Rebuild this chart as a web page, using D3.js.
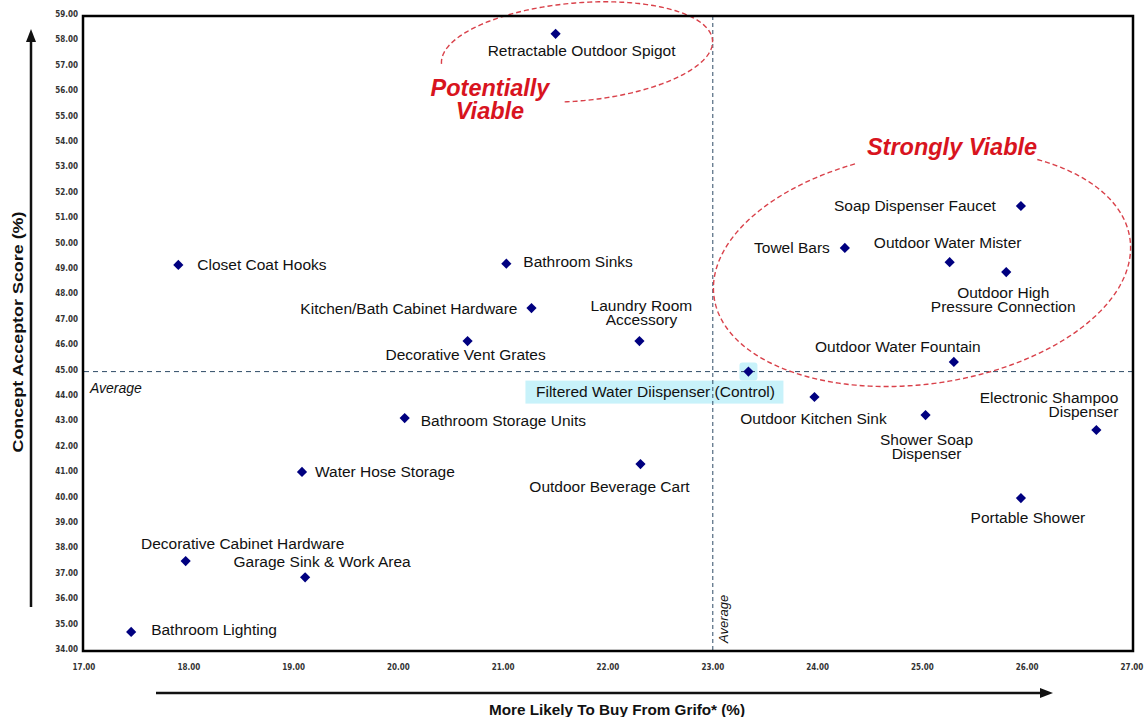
<!DOCTYPE html>
<html>
<head>
<meta charset="utf-8">
<script src="https://cdn.jsdelivr.net/npm/d3@7"></script>
<style>
  body { margin: 0; background: #fff; }
  svg { display: block; font-family: "Liberation Sans", Arial, sans-serif; }
</style>
</head>
<body>
<script>
const width = 1148;
const height = 717;

// concept names (\n = line break in the label)
const concepts = [
    'Retractable Outdoor Spigot', 'Closet Coat Hooks', 'Bathroom Sinks',
    'Kitchen/Bath Cabinet Hardware', 'Decorative Vent Grates', 'Laundry Room\nAccessory',
    'Filtered Water Diispenser (Control)', 'Outdoor Kitchen Sink', 'Bathroom Storage Units',
    'Water Hose Storage', 'Outdoor Beverage Cart', 'Decorative Cabinet Hardware',
    'Garage Sink & Work Area', 'Bathroom Lighting', 'Soap Dispenser Faucet', 'Towel Bars',
    'Outdoor Water Mister', 'Outdoor High\nPressure Connection', 'Outdoor Water Fountain',
    'Shower Soap\nDispenser', 'Electronic Shampoo\nDispenser', 'Portable Shower'
];
// More Likely To Buy From Grifo (%)
const buyPct = [21.50, 17.90, 21.03, 21.27, 20.66, 22.30, 23.34, 23.97, 20.06, 19.08, 22.31,
    17.97, 19.11, 17.45, 25.94, 24.26, 25.26, 25.80, 25.30, 25.03, 26.66, 25.94];
// Concept Acceptor Score (%)
const acceptPct = [58.30, 49.20, 49.25, 47.50, 46.20, 46.20, 45.00, 44.00, 43.17, 41.05, 41.36,
    37.54, 36.90, 34.75, 51.52, 49.87, 49.31, 48.92, 45.38, 43.29, 42.70, 40.02];

const xTicks = [17, 18, 19, 20, 21, 22, 23, 24, 25, 26, 27];
const yTicks = d3.range(34, 60);
const avgBuy = 23.0;
const avgAccept = 45.0;

// label placement: [anchor, dx, dy] relative to the marker
const labelPos = [
    ['middle', 26, 17], ['start', 19, 0], ['start', 17, -2], ['end', -14, 0], ['middle', -2, 13],
    ['middle', 2, -36], ['middle', -93, 20], ['middle', -1, 21], ['start', 16, 2], ['start', 13, 0],
    ['middle', -31, 22], ['middle', 57, -18], ['middle', 17, -16], ['start', 20, -2], ['end', -25, 0],
    ['end', -15, 0], ['middle', -2, -20], ['middle', -3, 20], ['middle', -56, -15], ['middle', 1, 24],
    ['end', 22, -33], ['middle', 7, 19]
];

const data = concepts.map((name, i) => ({name, x: buyPct[i], y: acceptPct[i], pos: labelPos[i]}));

const x = d3.scaleLinear().domain([17, 27]).range([84, 1132]);
const y = d3.scaleLinear().domain([34, 59]).range([651, 16]);

const svg = d3.select('body').append('svg')
    .attr('width', width)
    .attr('height', height);

// highlight behind the control concept
const ctrl = data[6];
svg.append('rect')
    .attr('x', x(ctrl.x) - 223).attr('y', y(ctrl.y) + 9)
    .attr('width', 258).attr('height', 23)
    .attr('fill', '#c8f2fa');
svg.append('rect')
    .attr('x', x(ctrl.x) - 9).attr('y', y(ctrl.y) - 9)
    .attr('width', 18).attr('height', 18).attr('rx', 3)
    .attr('fill', '#c8f2fa');

// average lines
svg.append('line')
    .attr('x1', x(17)).attr('x2', x(27))
    .attr('y1', y(avgAccept)).attr('y2', y(avgAccept))
    .attr('stroke', '#2e4a66').attr('stroke-width', 1).attr('stroke-dasharray', '5,4');
svg.append('line')
    .attr('x1', x(avgBuy)).attr('x2', x(avgBuy))
    .attr('y1', y(59)).attr('y2', y(34))
    .attr('stroke', '#2e4a66').attr('stroke-width', 1).attr('stroke-dasharray', '4,3');

svg.append('text')
    .attr('x', x(17) + 6).attr('y', y(avgAccept) + 21)
    .style('font-size', '14px').style('font-style', 'italic').attr('fill', '#111')
    .text('Average');
svg.append('text')
    .attr('transform', `translate(${x(avgBuy) + 15}, ${y(34) - 8}) rotate(-90)`)
    .style('font-size', '13px').style('font-style', 'italic').attr('fill', '#111')
    .text('Average');

// dashed ellipses (parametric, with gaps behind the red captions)
function ellipsePath(cx, cy, rx, ry, rot, t0, t1) {
    const r = rot * Math.PI / 180;
    const pts = d3.range(t0, t1 + 0.5, 1).map(d => {
        const t = d * Math.PI / 180;
        const lx = rx * Math.cos(t), ly = ry * Math.sin(t);
        return [cx + lx * Math.cos(r) - ly * Math.sin(r), cy + lx * Math.sin(r) + ly * Math.cos(r)];
    });
    return d3.line()(pts);
}
svg.append('path')
    .attr('d', ellipsePath(577, 52, 136, 49, -5, 180, 458))
    .attr('fill', 'none').attr('stroke', '#d9414a').attr('stroke-width', 1.4)
    .attr('stroke-dasharray', '5,3');
svg.append('path')
    .attr('d', ellipsePath(922, 268, 210, 116, -8, 308, 616))
    .attr('fill', 'none').attr('stroke', '#d9414a').attr('stroke-width', 1.4)
    .attr('stroke-dasharray', '5,3');

// frame
svg.append('rect')
    .attr('x', x(17) - 1).attr('y', y(59))
    .attr('width', x(27) - x(17) + 2).attr('height', y(34) - y(59))
    .attr('fill', 'none').attr('stroke', '#000').attr('stroke-width', 2.5);

// tick labels
svg.append('g').selectAll('text')
    .data(xTicks).join('text')
    .attr('x', d => x(d)).attr('y', 670)
    .attr('text-anchor', 'middle')
    .style('font-family', '"DejaVu Sans Condensed", "DejaVu Sans", sans-serif')
    .style('font-size', '8px').style('font-weight', 'bold').attr('fill', '#333')
    .text(d => d.toFixed(2));
svg.append('g').selectAll('text')
    .data(yTicks).join('text')
    .attr('x', 78).attr('y', d => y(d) + 1)
    .attr('text-anchor', 'end')
    .style('font-family', '"DejaVu Sans Condensed", "DejaVu Sans", sans-serif')
    .style('font-size', '8px').style('font-weight', 'bold').attr('fill', '#333')
    .text(d => d.toFixed(2));

// markers
const diamond = d3.symbol(d3.symbolSquare, 52);
svg.append('g').selectAll('path')
    .data(data).join('path')
    .attr('d', diamond)
    .attr('transform', d => `translate(${x(d.x)}, ${y(d.y)}) rotate(45)`)
    .attr('fill', '#000080');

// point labels
const labels = svg.append('g').selectAll('text')
    .data(data).join('text')
    .attr('text-anchor', d => d.pos[0])
    .style('font-size', '15.5px').attr('fill', '#111');
labels.selectAll('tspan')
    .data(d => d.name.split('\n').map((line, i) => ({line, i, d})))
    .join('tspan')
    .attr('x', t => x(t.d.x) + t.d.pos[1])
    .attr('y', t => y(t.d.y) + t.d.pos[2] + t.i * 14 + 5.5)
    .text(t => t.line);

// region captions
const caption = svg.append('g')
    .style('font-size', '23.5px').style('font-weight', 'bold').style('font-style', 'italic')
    .attr('fill', '#d8141e').attr('text-anchor', 'middle');
caption.append('text').attr('x', 490).attr('y', 96).text('Potentially');
caption.append('text').attr('x', 490).attr('y', 119).text('Viable');
caption.append('text').attr('x', 952).attr('y', 155).text('Strongly Viable');

// axis arrows
svg.append('line').attr('x1', 31).attr('x2', 31).attr('y1', 607).attr('y2', 40)
    .attr('stroke', '#111').attr('stroke-width', 2.5);
svg.append('path').attr('d', 'M31,29 L26,42 L36,42 Z').attr('fill', '#111');
svg.append('line').attr('x1', 156).attr('x2', 1042).attr('y1', 693).attr('y2', 693)
    .attr('stroke', '#111').attr('stroke-width', 2.5);
svg.append('path').attr('d', 'M1053,693 L1040,688 L1040,698 Z').attr('fill', '#111');

// axis titles
svg.append('text')
    .attr('x', 617).attr('y', 715)
    .attr('text-anchor', 'middle')
    .attr('textLength', 256).attr('lengthAdjust', 'spacingAndGlyphs')
    .style('font-size', '14px').style('font-weight', 'bold').attr('fill', '#111')
    .text('More Likely To Buy From Grifo* (%)');
svg.append('text')
    .attr('transform', 'translate(23, 332) rotate(-90)')
    .attr('text-anchor', 'middle')
    .attr('textLength', 241).attr('lengthAdjust', 'spacingAndGlyphs')
    .style('font-size', '15px').style('font-weight', 'bold').attr('fill', '#111')
    .text('Concept Acceptor Score (%)');
</script>
</body>
</html>
